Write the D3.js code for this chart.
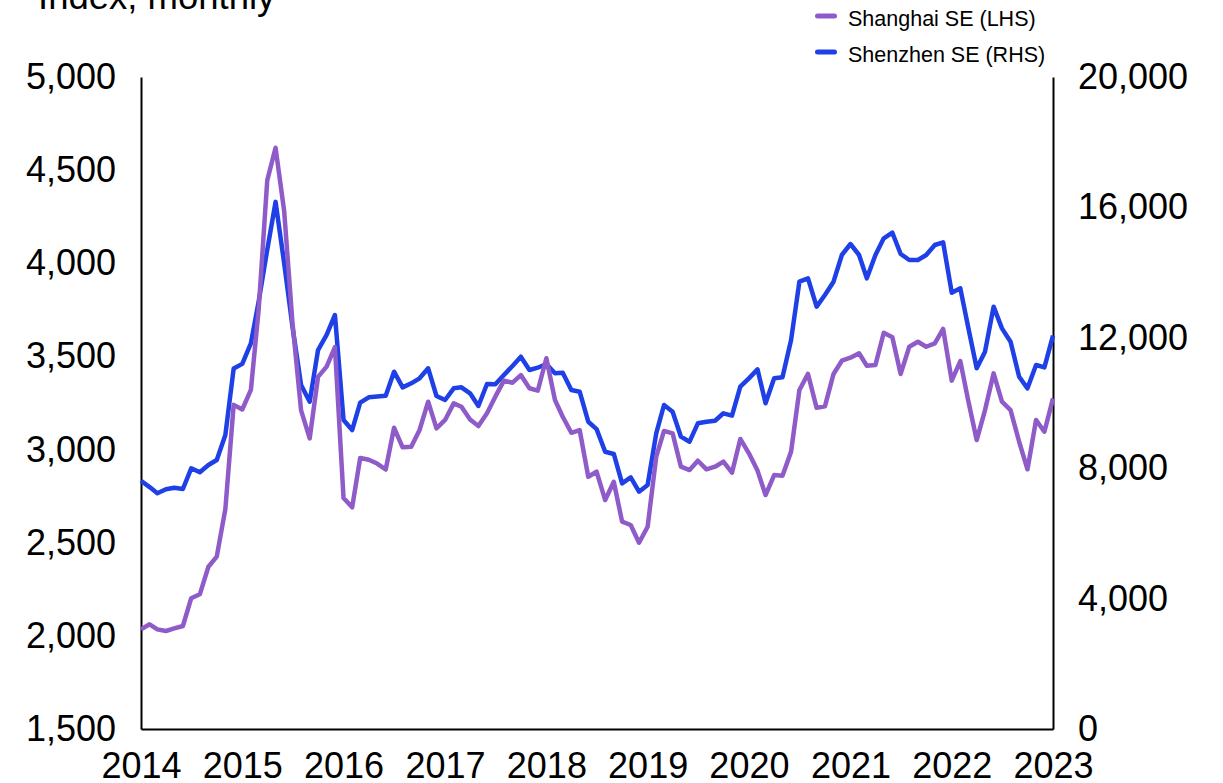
<!DOCTYPE html>
<html>
<head>
<meta charset="utf-8">
<script src="https://cdn.jsdelivr.net/npm/d3@7"></script>
<style>
    body { margin: 0; background: #fff; }
    svg text { font-family: "Liberation Sans", Arial, sans-serif; fill: #000; }
</style>
</head>
<body>
<script>
"use strict";

// monthly readings, Jan 2014 .. Jan 2023
var firstMonth = new Date(Date.UTC(2014, 0, 1));
var yearTicks = [2014, 2015, 2016, 2017, 2018, 2019, 2020, 2021, 2022, 2023];

var shanghai = [
    2035, 2062, 2035, 2026, 2040, 2053, 2202, 2223, 2371, 2425, 2680, 3240,
    3215, 3320, 3750, 4445, 4620, 4280, 3680, 3210, 3060, 3390, 3445, 3550,
    2740, 2690, 2955, 2945, 2925, 2893, 3117, 3012, 3015, 3105, 3257, 3114,
    3159, 3248, 3230, 3162, 3126, 3195, 3284, 3370, 3359, 3400, 3329, 3316,
    3490, 3266, 3176, 3090, 3105, 2854, 2881, 2729, 2827, 2613, 2595, 2500,
    2586, 2962, 3100, 3087, 2908, 2890, 2940, 2894, 2908, 2935, 2876, 3057,
    2980, 2887, 2756, 2863, 2860, 2989, 3320, 3406, 3224, 3232, 3406, 3477,
    3493, 3517, 3450, 3454, 3627, 3603, 3406, 3552, 3579, 3552, 3570, 3648,
    3370, 3475, 3266, 3051, 3212, 3409, 3257, 3212, 3042, 2894, 3159, 3096,
    3275
];

var shenzhen = [
    7616, 7420, 7230, 7353, 7402, 7362, 7997, 7874, 8098, 8252, 9020, 11060,
    11200, 11830, 13110, 14700, 16170, 14290, 12340, 10550, 10040, 11620, 12090, 12700,
    9480, 9170, 10010, 10175, 10200, 10225, 10960, 10480, 10604, 10757, 11064, 10215,
    10092, 10450, 10480, 10297, 9908, 10583, 10573, 10859, 11135, 11420, 11012, 11083,
    11196, 10910, 10930, 10399, 10347, 9426, 9200, 8506, 8436, 7536, 7720, 7280,
    7485, 9070, 9939, 9734, 8967, 8813, 9377, 9426, 9457, 9684, 9611, 10500,
    10757, 11033, 9990, 10757, 10788, 11933, 13722, 13824, 12955, 13313, 13722, 14540,
    14877, 14540, 13824, 14540, 15051, 15224, 14571, 14387, 14387, 14540, 14847, 14928,
    13384, 13517, 12340, 11064, 11575, 12955, 12290, 11881, 10807, 10450, 11166, 11094,
    12065
];

var leftTicks = [1500, 2000, 2500, 3000, 3500, 4000, 4500, 5000];
var rightTicks = [0, 4000, 8000, 12000, 16000, 20000];
var seriesNames = ["Shanghai SE (LHS)", "Shenzhen SE (RHS)"];
var seriesColors = ["#8e5bc9", "#1e40e6"];

var widthEcran = 1223, heightEcran = 783;
var margin = {top: 77, right: 170, bottom: 54, left: 141};
var innerW = widthEcran - margin.left - margin.right;
var innerH = heightEcran - margin.top - margin.bottom;

var canvas = d3.select("body")
    .append("svg")
    .attr("width", widthEcran)
    .attr("height", heightEcran);

var g = canvas.append("g")
    .attr("transform", "translate(" + margin.left + "," + margin.top + ")");

var x = d3.scaleUtc()
    .domain([firstMonth, new Date(Date.UTC(2023, 0, 1))])
    .range([0, innerW]);
var yLeft = d3.scaleLinear().domain([1500, 5000]).range([innerH, 0]);
var yRight = d3.scaleLinear().domain([0, 20000]).range([innerH, 0]);

function monthDate(i) {
    return d3.utcMonth.offset(firstMonth, i);
}

var fmt = d3.format(",");

// axes
var axisL = g.append("g")
    .call(d3.axisLeft(yLeft).tickValues(leftTicks).tickFormat(fmt)
        .tickSize(0).tickPadding(25));
var axisR = g.append("g")
    .attr("transform", "translate(" + innerW + ",0)")
    .call(d3.axisRight(yRight).tickValues(rightTicks).tickFormat(fmt)
        .tickSize(0).tickPadding(25));
var axisB = g.append("g")
    .attr("transform", "translate(0," + innerH + ")")
    .call(d3.axisBottom(x)
        .tickValues(yearTicks.map(function (yr) { return new Date(Date.UTC(yr, 0, 1)); }))
        .tickFormat(d3.utcFormat("%Y"))
        .tickSize(0).tickPadding(23));

[axisL, axisR, axisB].forEach(function (a) {
    a.select(".domain").attr("stroke", "#000").attr("stroke-width", 2);
    a.selectAll("text")
        .attr("font-size", 36)
        .attr("font-family", "'Liberation Sans', Arial, sans-serif")
        .attr("fill", "#000");
});

// lines
var lineL = d3.line()
    .x(function (d, i) { return x(monthDate(i)); })
    .y(function (d) { return yLeft(d); });
var lineR = d3.line()
    .x(function (d, i) { return x(monthDate(i)); })
    .y(function (d) { return yRight(d); });

g.append("path")
    .datum(shenzhen)
    .attr("d", lineR)
    .attr("fill", "none")
    .attr("stroke", seriesColors[1])
    .attr("stroke-width", 4.5)
    .attr("stroke-linejoin", "round");

g.append("path")
    .datum(shanghai)
    .attr("d", lineL)
    .attr("fill", "none")
    .attr("stroke", seriesColors[0])
    .attr("stroke-width", 4.5)
    .attr("stroke-linejoin", "round");

// title
canvas.append("text")
    .attr("x", 38)
    .attr("y", 9)
    .attr("font-size", 36.5)
    .text("Index, monthly");

// legend
var legend = canvas.append("g").attr("transform", "translate(815,16)");
seriesNames.forEach(function (name, i) {
    legend.append("line")
        .attr("x1", 2.5).attr("x2", 19.5)
        .attr("y1", i * 36).attr("y2", i * 36)
        .attr("stroke", seriesColors[i])
        .attr("stroke-width", 5)
        .attr("stroke-linecap", "round");
    legend.append("text")
        .attr("x", 33)
        .attr("y", i * 36 + 10)
        .attr("font-size", 21.5)
        .text(name);
});
</script>
</body>
</html>
